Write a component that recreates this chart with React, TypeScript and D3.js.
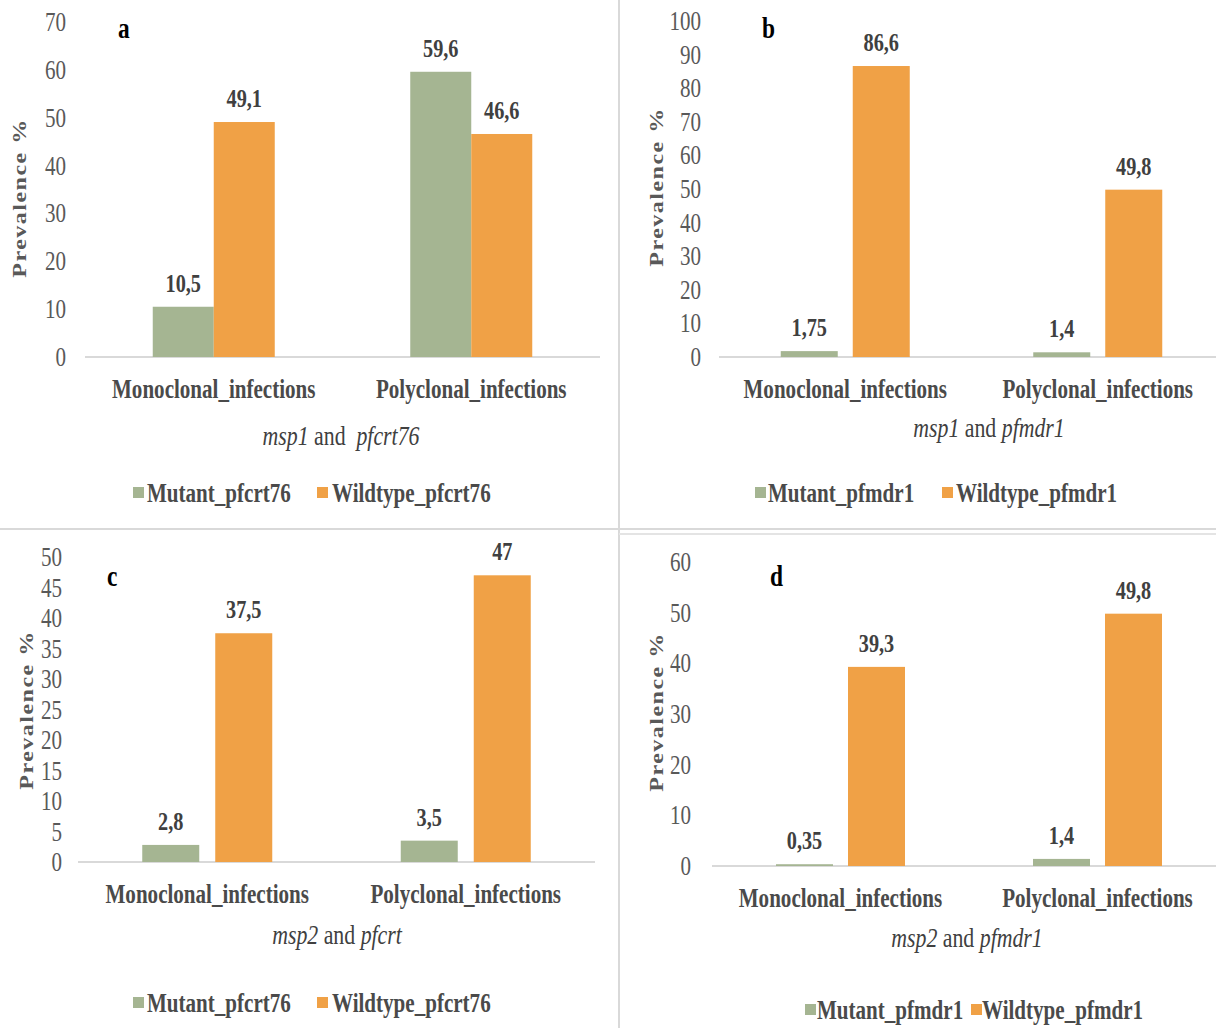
import React from 'react';
import * as d3 from 'd3';

const categories = ['Monoclonal_infections', 'Polyclonal_infections'];
const mutantA = [10.5, 59.6];
const wildA = [49.1, 46.6];
const mutantB = [1.75, 1.4];
const wildB = [86.6, 49.8];
const mutantC = [2.8, 3.5];
const wildC = [37.5, 47];
const mutantD = [0.35, 1.4];
const wildD = [39.3, 49.8];
const ticksA = d3.range(0, 71, 10);
const ticksB = d3.range(0, 101, 10);
const ticksC = d3.range(0, 51, 5);
const ticksD = d3.range(0, 61, 10);
const legendCrt = ['Mutant_pfcrt76', 'Wildtype_pfcrt76'];
const legendMdr = ['Mutant_pfmdr1', 'Wildtype_pfmdr1'];
const subtitleA = [['msp1', true], [' and  ', false], ['pfcrt76', true]];
const subtitleB = [['msp1', true], [' and ', false], ['pfmdr1', true]];
const subtitleC = [['msp2', true], [' and ', false], ['pfcrt', true]];
const subtitleD = [['msp2', true], [' and ', false], ['pfmdr1', true]];

const GREEN = '#A5B592';
const ORANGE = '#F0A146';
const SX = 0.78;
const FONT = '"Liberation Serif", "Times New Roman", serif';

const panels = [
  { letter: 'a', mutant: mutantA, wild: wildA, ticks: ticksA, legend: legendCrt, subtitle: subtitleA,
    xRange: [85, 600], yRange: [357, 22], tickX: 66, barW: 61, gap: 0,
    titleX: 18, titleY: 198, letterX: 118, letterY: 38, subX: 341, subY: 445,
    legY: 493, sq1: 133, t1: 147, sq2: 317, t2: 332 },
  { letter: 'b', mutant: mutantB, wild: wildB, ticks: ticksB, legend: legendMdr, subtitle: subtitleB,
    xRange: [719, 1224], yRange: [357, 21], tickX: 701, barW: 57, gap: 15,
    titleX: 655, titleY: 187, letterX: 762, letterY: 38, subX: 989, subY: 437,
    legY: 493, sq1: 755, t1: 768, sq2: 942, t2: 956 },
  { letter: 'c', mutant: mutantC, wild: wildC, ticks: ticksC, legend: legendCrt, subtitle: subtitleC,
    xRange: [78, 595], yRange: [862, 557], tickX: 62, barW: 57, gap: 16,
    titleX: 25, titleY: 710, letterX: 107, letterY: 586, subX: 337, subY: 944,
    legY: 1003, sq1: 133, t1: 147, sq2: 317, t2: 332 },
  { letter: 'd', mutant: mutantD, wild: wildD, ticks: ticksD, legend: legendMdr, subtitle: subtitleD,
    xRange: [712, 1226], yRange: [866, 562], tickX: 691, barW: 57, gap: 15,
    titleX: 655, titleY: 712, letterX: 770, letterY: 586, subX: 967, subY: 947,
    legY: 1010, sq1: 805, t1: 817, sq2: 971, t2: 982 },
];

const fmt = (v: number) => String(v).replace('.', ',');

function T({ x, y, children, anchor = 'middle', size = 27, weight = 'normal', fill = '#404040', rotate = false, italic = false, ls = 0 }: any) {
  return (
    <text
      transform={`translate(${x},${y}) scale(${SX},1)${rotate ? ' rotate(-90)' : ''}`}
      textAnchor={anchor}
      fontSize={size}
      fontWeight={weight}
      fontStyle={italic ? 'italic' : 'normal'}
      fill={fill}
      fontFamily={FONT}
      letterSpacing={ls}
      style={{ whiteSpace: 'pre' }}
    >
      {children}
    </text>
  );
}

function Panel({ p }: any) {
  const x = d3.scaleBand().domain(categories).range(p.xRange);
  const max = p.ticks[p.ticks.length - 1];
  const y = d3.scaleLinear().domain([0, max]).range(p.yRange);
  const series = [
    { vals: p.mutant, color: GREEN, off: -p.gap / 2 - p.barW },
    { vals: p.wild, color: ORANGE, off: p.gap / 2 },
  ];
  return (
    <g>
      {p.ticks.map((t: number) => (
        <T key={t} x={p.tickX} y={y(t) + 9} anchor="end" size={27} fill="#595959">{t}</T>
      ))}
      <line x1={p.xRange[0]} x2={Math.min(p.xRange[1], 1216)} y1={y(0)} y2={y(0)} stroke="#D9D9D9" strokeWidth={2} />
      {series.map((s, si) =>
        categories.map((c, i) => {
          const cx = x(c)! + x.bandwidth() / 2;
          const v = s.vals[i];
          return (
            <g key={`${si}-${i}`}>
              <rect x={cx + s.off} width={p.barW} y={y(v)} height={y(0) - y(v)} fill={s.color} />
              <T x={cx + s.off + p.barW / 2} y={y(v) - 15} size={26} weight="bold" fill="#404040">{fmt(v)}</T>
            </g>
          );
        })
      )}
      {categories.map((c) => (
        <T key={c} x={x(c)! + x.bandwidth() / 2} y={y(0) + 41} size={27} weight="bold" fill="#4a4a4a">{c}</T>
      ))}
      <T x={p.subX} y={p.subY} size={28} fill="#404040">
        {p.subtitle.map((s: any, i: number) => (
          <tspan key={i} fontStyle={s[1] ? 'italic' : 'normal'}>{s[0]}</tspan>
        ))}
      </T>
      <T x={p.titleX + 8} y={p.titleY} rotate size={24} weight="bold" fill="#595959" ls={1.5}>Prevalence %</T>
      <T x={p.letterX} y={p.letterY} anchor="start" size={30} weight="bold" fill="#000">{p.letter}</T>
      <rect x={p.sq1} y={p.legY - 6} width={11} height={11} fill={GREEN} />
      <T x={p.t1} y={p.legY + 9} anchor="start" size={27} weight="bold" fill="#4a4a4a">{p.legend[0]}</T>
      <rect x={p.sq2} y={p.legY - 6} width={11} height={11} fill={ORANGE} />
      <T x={p.t2} y={p.legY + 9} anchor="start" size={27} weight="bold" fill="#4a4a4a">{p.legend[1]}</T>
    </g>
  );
}

export default function App() {
  return (
    <svg width={1216} height={1028} style={{ position: 'absolute', left: 0, top: 0, background: '#fff' }}>
      <rect width={1216} height={1028} fill="#fff" />
      <line x1={619} x2={619} y1={0} y2={1028} stroke="#D9D9D9" strokeWidth={2} />
      <line x1={0} x2={1216} y1={529} y2={529} stroke="#D9D9D9" strokeWidth={2} />
      <line x1={619} x2={1216} y1={534} y2={534} stroke="#E4E4E4" strokeWidth={2} />
      {panels.map((p) => <Panel key={p.letter} p={p} />)}
    </svg>
  );
}
